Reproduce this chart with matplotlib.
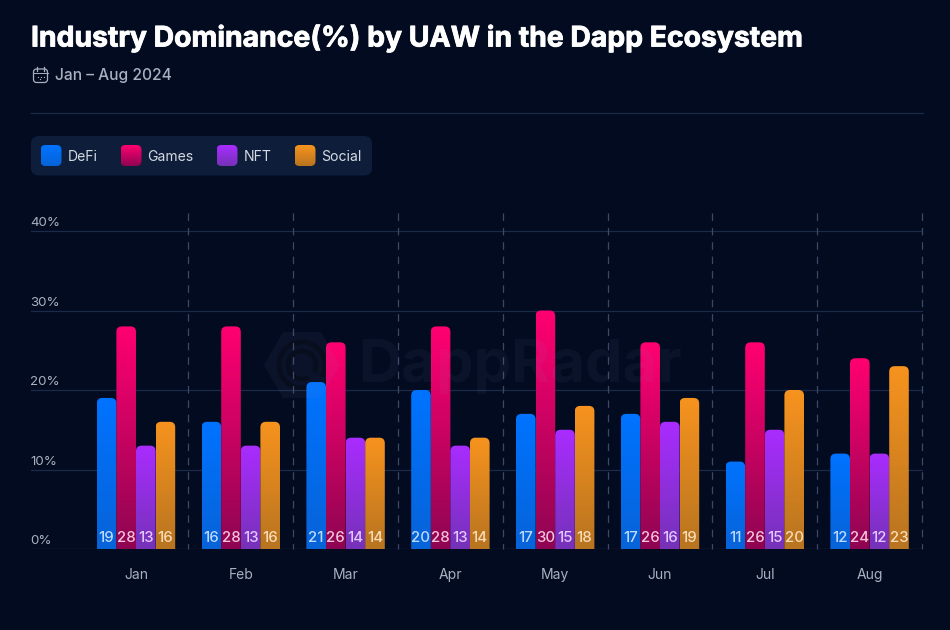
import matplotlib
matplotlib.use('Agg')
import matplotlib.pyplot as plt
import matplotlib.patheffects as pe
import numpy as np
from matplotlib.colors import LinearSegmentedColormap
from matplotlib.patches import FancyBboxPatch, PathPatch, RegularPolygon, Arc
from matplotlib.path import Path

months = ['Jan', 'Feb', 'Mar', 'Apr', 'May', 'Jun', 'Jul', 'Aug']
defi = [19, 16, 21, 20, 17, 17, 11, 12]
games = [28, 28, 26, 28, 30, 26, 26, 24]
nft = [13, 13, 14, 13, 15, 16, 15, 12]
social = [16, 16, 14, 14, 18, 19, 20, 23]
series_names = ['DeFi', 'Games', 'NFT', 'Social']
yticks = [0, 10, 20, 30, 40]

bg = '#020b20'
grid_c = '#1c2a4a'
top_cols = ['#0073ff', '#ff0070', '#a92cff', '#f7931e']
bot_cols = ['#0763d8', '#8f0552', '#7532b8', '#b87420']
txt_c = '#a9b1c0'
W, H = 950, 630

plt.rcParams['font.family'] = ['Inter', 'DejaVu Sans']
fig = plt.figure(figsize=(9.5, 6.3), dpi=100, facecolor=bg)

# header layer, in pixels
bk = fig.add_axes([0, 0, 1, 1], zorder=0)
bk.set_xlim(0, W)
bk.set_ylim(H, 0)
bk.axis('off')

bk.text(31, 38.5, 'Industry Dominance(%) by UAW in the Dapp Ecosystem', color='white',
        fontsize=20.4, fontweight='bold', va='center', ha='left',
        path_effects=[pe.withStroke(linewidth=0.6, foreground='white')])
bk.text(55, 75.5, 'Jan – Aug 2024', color=txt_c, fontsize=11.2, fontweight='medium', va='center')
bk.plot([31, 923], [112.5, 112.5], color=grid_c, lw=0.9)

# calendar icon
bk.add_patch(FancyBboxPatch((33.5, 69), 14, 13.5, boxstyle='round,pad=0,rounding_size=3',
                            fc='none', ec=txt_c, lw=0.9))
bk.plot([33.5, 47.5], [73, 73], color=txt_c, lw=0.7)
bk.plot([37, 37], [66.5, 70.5], color=txt_c, lw=0.9)
bk.plot([44, 44], [66.5, 70.5], color=txt_c, lw=0.9)
bk.plot([37.5, 40.5, 43.5, 39.5], [76.5, 76.5, 76.5, 79], ls='none', marker='s', ms=0.8, mew=0, color=txt_c)

# legend
bk.add_patch(FancyBboxPatch((31, 136), 341, 39.5, boxstyle='round,pad=0,rounding_size=8',
                            fc='#0e1e3a', ec='none'))
swatch_x = [40.5, 120.5, 216.5, 294.5]
label_x = [67.5, 147.5, 244, 321.5]
for i, name in enumerate(series_names):
    cm = LinearSegmentedColormap.from_list('c', [top_cols[i], bot_cols[i]])
    im = bk.imshow(np.linspace(0, 1, 40).reshape(-1, 1), cmap=cm, aspect='auto', zorder=2,
                   extent=(swatch_x[i], swatch_x[i] + 21, 166, 145))
    p = FancyBboxPatch((swatch_x[i], 145), 21, 21, boxstyle='round,pad=0,rounding_size=5',
                       fc='none', ec='none', transform=bk.transData)
    bk.add_patch(p)
    im.set_clip_path(p)
    bk.text(label_x[i], 157, name, color='#d5d9e2', fontsize=10.1, va='center', zorder=3)

# dark rings of the watermark logo stay behind the bars
for d in [46, 28]:
    bk.add_patch(Arc((302, 365), d, d, theta1=60, theta2=390, ec='#000514', lw=3.5, zorder=1))
bk.set_xlim(0, W)
bk.set_ylim(H, 0)

# chart axes: x 31..923 px, y 213..549 px
ax = fig.add_axes([31 / W, 1 - 549 / H, 892 / W, 336 / H], zorder=1)
ax.patch.set_alpha(0)
step = 104.8
x0 = 136
ax.set_xlim((31 - x0) / step, (923 - x0) / step)
ax.set_ylim(0, 336 / 7.95)
for s in ax.spines.values():
    s.set_visible(False)
ax.set_xticks(range(len(months)))
ax.set_xticklabels(months, color=txt_c, fontsize=10)
ax.tick_params(axis='x', length=0, pad=14)
ax.set_yticks([])

ytrans = ax.get_yaxis_transform()
xtrans = ax.get_xaxis_transform()
for v in yticks:
    ax.plot([0, 1], [v, v], transform=ytrans, color=grid_c if v else '#2d3850', lw=0.9, zorder=1)
    ax.annotate('%d%%' % v, (0, v), xycoords=ytrans, xytext=(-0.5, 5.6), textcoords='offset points',
                color=txt_c, fontsize=9.6, va='center', ha='left')
for i in range(len(months)):
    # drawn from the top so the dash pattern starts at the top edge
    ax.plot([i + 0.5, i + 0.5], [1, 0], transform=xtrans, color='#3d4963', lw=0.9,
            ls=(0, (6, 5.5)), zorder=1, clip_on=False)


def round_bar(ax, x, w, h, top, bot):
    # bar with rounded top corners, filled with a vertical gradient
    rx = 5.5 / step
    ry = 5.5 / 7.95
    verts = [(x, 0), (x, h - ry), (x, h), (x + rx, h), (x + w - rx, h), (x + w, h),
             (x + w, h - ry), (x + w, 0), (x, 0)]
    codes = [Path.MOVETO, Path.LINETO, Path.CURVE3, Path.CURVE3, Path.LINETO,
             Path.CURVE3, Path.CURVE3, Path.LINETO, Path.CLOSEPOLY]
    cm = LinearSegmentedColormap.from_list('g', [top, bot])
    im = ax.imshow(np.linspace(0, 1, 100).reshape(-1, 1), cmap=cm, aspect='auto',
                   extent=(x, x + w, 0, h), zorder=3)
    patch = PathPatch(Path(verts, codes), fc='none', ec='none', transform=ax.transData)
    ax.add_patch(patch)
    im.set_clip_path(patch)


bar_w = 19.6 / step
all_series = [defi, games, nft, social]
label_cols = ['#bcdaff', '#f4c4dc', '#e3c8ff', '#f8dcb8']
for k, vals in enumerate(all_series):
    for i, v in enumerate(vals):
        left = i + (k - 2) * bar_w
        round_bar(ax, left, bar_w, v, top_cols[k], bot_cols[k])
        ax.annotate(str(v), (left + bar_w / 2, 0), xytext=(0, 8), textcoords='offset points',
                    color=label_cols[k], fontsize=10.8, fontweight='medium',
                    ha='center', va='center', zorder=5)
ax.set_xlim((31 - x0) / step, (923 - x0) / step)
ax.set_ylim(0, 336 / 7.95)

# watermark
fr = fig.add_axes([0, 0, 1, 1], zorder=2)
fr.set_xlim(0, W)
fr.set_ylim(H, 0)
fr.axis('off')
wm = '#8fa3c8'
fr.add_patch(RegularPolygon((302, 365), 6, radius=38, orientation=np.pi / 2, fc=wm, ec='none', alpha=0.06))
fr.text(358, 366, 'DappRadar', color=wm, alpha=0.06, fontsize=43, fontweight='bold', va='center')

fig.savefig('out.png', dpi=100, facecolor=bg)
